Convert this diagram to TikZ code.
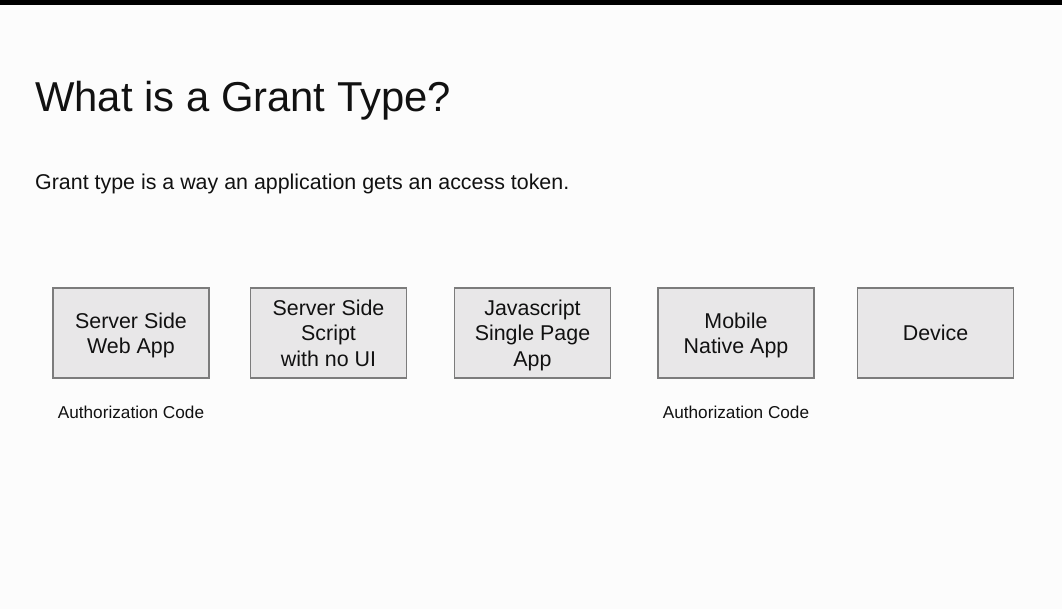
\documentclass[tikz,border=0pt]{standalone}
\usepackage{fontspec}
\setmainfont{Liberation Sans}
\definecolor{pagebg}{HTML}{FCFCFC}
\definecolor{boxfill}{HTML}{E8E7E8}
\definecolor{boxline}{HTML}{7C7C7C}
\definecolor{ink}{HTML}{111111}
% line strut that centres capitals on each 25.5pt line
\newcommand\capline{\rule[-4.95pt]{0pt}{25.5pt}}
\begin{document}
\begin{tikzpicture}[x=1pt,y=1pt,
  apptype/.style={draw=boxline,fill=boxfill,line width=1.1pt,minimum width=156pt,minimum height=90pt,
    inner sep=0pt,align=center,text=ink,font=\fontsize{21.4}{25.5}\selectfont},
  granttag/.style={text=ink,font=\fontsize{17.2}{20}\selectfont}]
% page and top bar
\fill[pagebg] (0,0) rectangle (1062,-609);
\fill[black] (0,0) rectangle (1062,-5);
\useasboundingbox (0,0) rectangle (1062,-609);
% heading and definition
\node[anchor=base west,inner sep=0pt,text=ink,font=\fontsize{41.8}{48}\selectfont] (title) at (35,-111.5) {What is a Grant Type?};
\node[anchor=base west,inner sep=0pt,text=ink,font=\fontsize{21.4}{25}\selectfont] (intro) at (35,-190) {Grant type is a way an application gets an access token.};
% application kinds
\node[apptype] (web) at (131,-333) {\capline Server Side\\\capline Web App};
\node[apptype] (script) at (328.5,-333) {\capline Server Side\\\capline Script\\\capline with no UI};
\node[apptype] (spa) at (532.5,-333) {\capline Javascript\\\capline Single Page\\\capline App};
\node[apptype] (mobile) at (736,-333) {\capline Mobile\\\capline Native App};
\node[apptype] (device) at (935.5,-333) {\capline Device};
% grant types under the boxes
\node[granttag] (webgrant) at (131,-412) {Authorization Code};
\node[granttag] (mobilegrant) at (736,-412) {Authorization Code};
\end{tikzpicture}
\end{document}
